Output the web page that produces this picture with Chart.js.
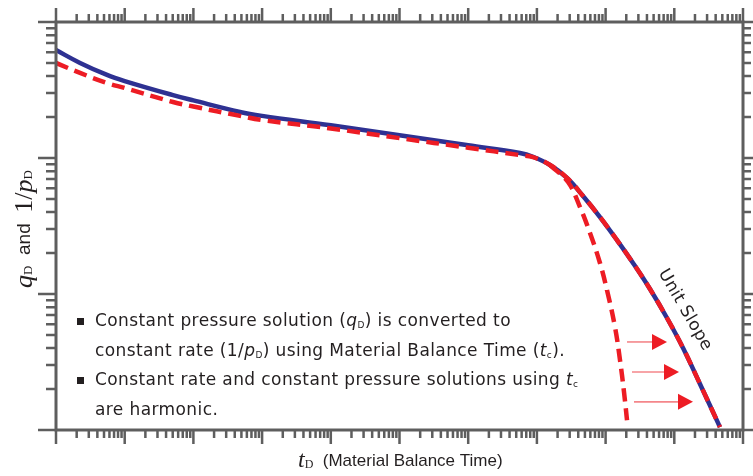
<!DOCTYPE html>
<html>
<head>
<meta charset="utf-8">
<script src="https://cdn.jsdelivr.net/npm/chart.js@4"></script>
<style>
  html, body { margin: 0; padding: 0; background: #fff; }
  canvas { display: block; }
</style>
</head>
<body>
<canvas id="plot" width="753" height="476"></canvas>
<script>
"use strict";

// tD values (material balance time)
const tdRate = [1e-4, 2.24e-4, 5.53e-4, 1e-3, 5.05e-3, 1e-2, 0.0477, 0.1, 1, 10, 100, 568, 877, 1552, 2742, 4690, 8280, 14650, 25060, 44260, 78300, 134000, 236600, 462000];
// constant rate solution 1/pD (solid blue)
const invPd = [0.622, 0.500, 0.408, 0.368, 0.290, 0.265, 0.218, 0.204, 0.174, 0.147, 0.124, 0.109, 0.1022, 0.0888, 0.0713, 0.0526, 0.0368, 0.0249, 0.0169, 0.01088, 0.00666, 0.00401, 0.00218, 0.00105];

// constant pressure solution qD plotted against tc (dashed red, lies on the blue at late time)
const tdPressTc = [1e-4, 2.24e-4, 5.53e-4, 1e-3, 5.05e-3, 1e-2, 0.0477, 0.1, 1, 10, 100, 568, 877, 1552, 2742, 4690, 8280, 14650, 25060, 44260, 78300, 134000, 236600, 462000];
const qdTc = [0.500, 0.422, 0.356, 0.327, 0.258, 0.239, 0.204, 0.190, 0.165, 0.140, 0.119, 0.105, 0.1015, 0.0888, 0.0713, 0.0526, 0.0368, 0.0249, 0.0169, 0.01088, 0.00666, 0.00401, 0.00218, 0.00105];

// constant pressure solution qD against plain tD (steep dashed branch)
const tdPress = [1552, 2837, 4240, 5930, 8280, 10470, 13700, 16200, 18530, 20500];
const qdPress = [0.0888, 0.0666, 0.0436, 0.0281, 0.0169, 0.0107, 0.00572, 0.00327, 0.00190, 0.00118];

// arrows showing the shift from tD to tc
const arrowFrom = [2.05e4, 2.42e4, 2.59e4];
const arrowTo = [7.83e4, 1.17e5, 1.87e5];
const arrowAt = [0.00444, 0.00267, 0.00161];

// axis decades (no numbers are printed on the axes)
const xDecades = [1e-4, 1e-3, 1e-2, 1e-1, 1, 10, 100, 1e3, 1e4, 1e5, 1e6];
const yDecades = [1e-3, 1e-2, 1e-1, 1];
const minorSteps = [2, 3, 4, 5, 6, 7, 8, 9];

const toPoints = (xs, ys) => xs.map((x, i) => ({ x: x, y: ys[i] }));

const BLUE = '#2e3192';
const RED = '#ed1c24';
const AXIS = '#5e5e5e';
const INK = '#231f20';
const SANS = '"DejaVu Sans", sans-serif';
const NARROW = '"Liberation Sans Narrow", "Liberation Sans", sans-serif';
const SERIF = '"Liberation Serif", "DejaVu Serif", serif';

// draws a run of text pieces: {t, font, dy}
function drawRuns(c, runs, x, y) {
    let cx = x;
    runs.forEach(r => {
        c.font = r.font;
        c.fillText(r.t, cx, y + (r.dy || 0));
        cx += c.measureText(r.t).width;
    });
    return cx - x;
}
function runsWidth(c, runs) {
    let w = 0;
    runs.forEach(r => { c.font = r.font; w += c.measureText(r.t).width; });
    return w;
}

const bodyFont = '17px ' + SANS;
const bodyIt = 'italic 17px ' + SANS;
const bodySub = '9px ' + SANS;
const notes = [
    { bullet: true, runs: [{ t: 'Constant pressure solution (', font: bodyFont }, { t: 'q', font: bodyIt }, { t: 'D', font: bodySub, dy: 4 }, { t: ') is converted to', font: bodyFont }] },
    { bullet: false, runs: [{ t: 'constant rate (1/', font: bodyFont }, { t: 'p', font: bodyIt }, { t: 'D', font: bodySub, dy: 4 }, { t: ') using Material Balance Time (', font: bodyFont }, { t: 't', font: bodyIt }, { t: 'c', font: bodySub, dy: 4 }, { t: ').', font: bodyFont }] },
    { bullet: true, runs: [{ t: 'Constant rate and constant pressure solutions using ', font: bodyFont }, { t: 't', font: bodyIt }, { t: 'c', font: bodySub, dy: 4 }] },
    { bullet: false, runs: [{ t: 'are harmonic.', font: bodyFont }] }
];

const frame = {
    id: 'frame',
    afterDatasetsDraw(chart) {
        const c = chart.ctx;
        const a = chart.chartArea;
        const xs = chart.scales.x, ys = chart.scales.y;
        c.save();

        // arrows
        arrowAt.forEach((yv, i) => {
            const py = ys.getPixelForValue(yv);
            const x0 = xs.getPixelForValue(arrowFrom[i]);
            const x1 = xs.getPixelForValue(arrowTo[i]);
            const head = 15;
            c.strokeStyle = '#f4868a';
            c.lineWidth = 1.6;
            c.beginPath();
            c.moveTo(x0, py);
            c.lineTo(x1 - head, py);
            c.stroke();
            c.fillStyle = RED;
            c.beginPath();
            c.moveTo(x1, py);
            c.lineTo(x1 - head, py - 8);
            c.lineTo(x1 - head, py + 8);
            c.closePath();
            c.fill();
        });

        // frame and tick marks
        c.strokeStyle = AXIS;
        c.lineWidth = 2.5;
        c.lineCap = 'butt';
        c.beginPath();
        xDecades.forEach((d, k) => {
            const steps = k < xDecades.length - 1 ? [1].concat(minorSteps) : [1];
            steps.forEach(m => {
                const px = xs.getPixelForValue(d * m);
                const len = m === 1 ? 14 : 8;
                c.moveTo(px, a.bottom); c.lineTo(px, a.bottom + len);
                c.moveTo(px, a.top); c.lineTo(px, a.top - len);
            });
        });
        yDecades.forEach((d, k) => {
            const steps = k < yDecades.length - 1 ? [1].concat(minorSteps) : [1];
            steps.forEach(m => {
                const py = ys.getPixelForValue(d * m);
                c.moveTo(a.left, py); c.lineTo(a.left - (m === 1 ? 18 : 10), py);
                c.moveTo(a.right, py); c.lineTo(a.right + (m === 1 ? 12 : 8), py);
            });
        });
        c.stroke();
        c.lineWidth = 3;
        c.strokeRect(a.left, a.top, a.right - a.left, a.bottom - a.top);

        // notes
        c.fillStyle = INK;
        c.textBaseline = 'middle';
        c.textAlign = 'left';
        c.letterSpacing = '0.4px';
        notes.forEach((n, i) => {
            const y = 322 + i * 29.5;
            if (n.bullet) c.fillRect(77, y - 4, 7, 7);
            drawRuns(c, n.runs, 95, y);
        });

        // unit slope label
        c.save();
        c.translate(xs.getPixelForValue(1.43e5), ys.getPixelForValue(0.00762));
        c.rotate(60 * Math.PI / 180);
        c.font = '17px ' + SANS;
        c.textAlign = 'center';
        c.fillText('Unit Slope', 0, 0);
        c.restore();
        c.letterSpacing = '0px';

        // x axis title
        const xt = [
            { t: 't', font: 'italic 24px ' + SERIF },
            { t: 'D', font: '12px ' + SERIF, dy: 4 },
            { t: '  (Material Balance Time)', font: '17px ' + NARROW }
        ];
        c.textAlign = 'left';
        drawRuns(c, xt, 298, 461);

        // y axis title
        const yt = [
            { t: 'q', font: 'italic 26px ' + SERIF },
            { t: 'D', font: '13px ' + SERIF, dy: 4 },
            { t: '  and  ', font: '19px ' + NARROW },
            { t: '1/', font: '26px ' + SERIF },
            { t: 'p', font: 'italic 26px ' + SERIF },
            { t: 'D', font: '13px ' + SERIF, dy: 4 }
        ];
        c.save();
        c.translate(25, 229);
        c.rotate(-Math.PI / 2);
        const w = runsWidth(c, yt);
        drawRuns(c, yt, -w / 2, 0);
        c.restore();

        c.restore();
    }
};

new Chart(document.querySelector('#plot'), {
    type: 'line',
    data: {
        datasets: [
            {
                label: '1/pD',
                data: toPoints(tdRate, invPd),
                borderColor: BLUE,
                borderWidth: 4.5,
                pointRadius: 0,
                tension: 0.4,
                order: 3
            },
            {
                label: 'qD vs tc',
                data: toPoints(tdPressTc, qdTc),
                borderColor: RED,
                borderWidth: 4.5,
                borderDash: [13, 7],
                pointRadius: 0,
                tension: 0.4,
                order: 1
            },
            {
                label: 'qD vs tD',
                data: toPoints(tdPress, qdPress),
                borderColor: RED,
                borderWidth: 4.5,
                borderDash: [13, 7],
                pointRadius: 0,
                tension: 0.4,
                order: 2
            }
        ]
    },
    options: {
        responsive: false,
        animation: false,
        devicePixelRatio: 1,
        layout: { padding: { left: 56, right: 10, top: 22, bottom: 46 } },
        plugins: { legend: { display: false }, tooltip: { enabled: false } },
        scales: {
            x: { type: 'logarithmic', min: 1e-4, max: 1e6, display: false },
            y: { type: 'logarithmic', min: 1e-3, max: 1, display: false }
        }
    },
    plugins: [frame]
});
</script>
</body>
</html>
